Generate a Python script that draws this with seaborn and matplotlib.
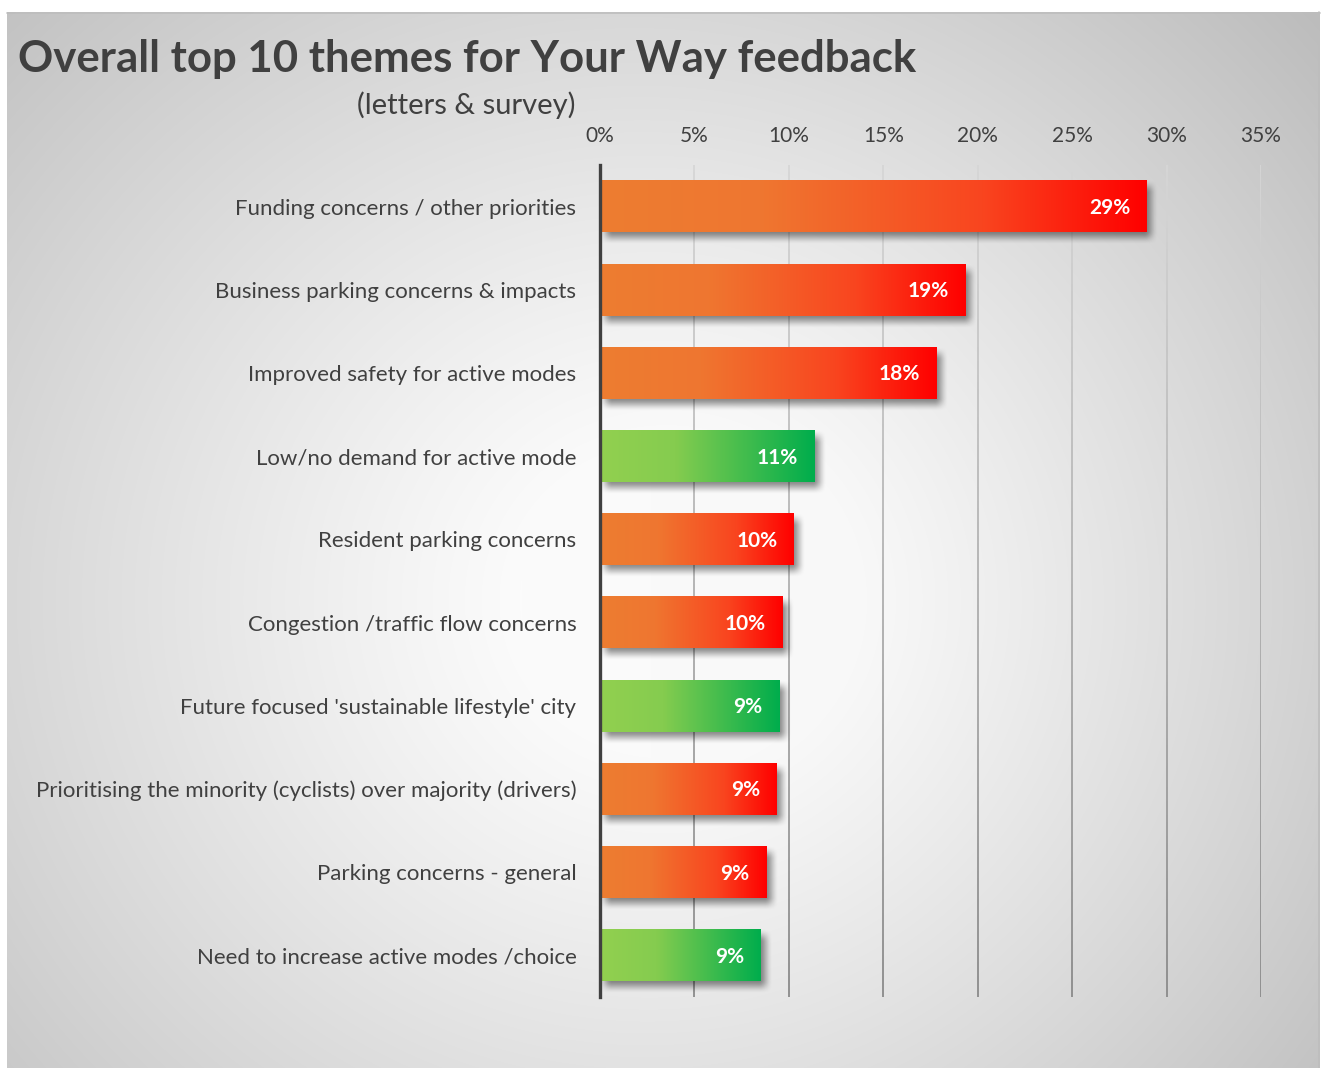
import numpy as np
import pandas as pd
import matplotlib
matplotlib.use("Agg")
import matplotlib.pyplot as plt
import seaborn as sns
from matplotlib.colors import LinearSegmentedColormap
from matplotlib.collections import LineCollection

# ---- data -------------------------------------------------------------
themes = [
    "Funding concerns / other priorities",
    "Business parking concerns & impacts",
    "Improved safety for active modes",
    "Low/no demand for active mode",
    "Resident parking concerns",
    "Congestion /traffic flow concerns",
    "Future focused 'sustainable lifestyle' city",
    "Prioritising the minority (cyclists) over majority (drivers)",
    "Parking concerns - general",
    "Need to increase active modes /choice",
]
shares = [0.2896, 0.1933, 0.1784, 0.1138, 0.1027, 0.0964, 0.0948, 0.0937, 0.0879, 0.0852]
tone = ["warm", "warm", "warm", "cool", "warm", "warm", "cool", "warm", "warm", "cool"]
x_ticks = [0, 0.05, 0.10, 0.15, 0.20, 0.25, 0.30, 0.35]

df = pd.DataFrame({"theme": themes, "share": shares, "tone": tone})

# ---- styling ----------------------------------------------------------
W, H = 1321, 1068
DPI = 100
sns.set_theme(style="white")
plt.rcParams["font.family"] = ["Lato", "DejaVu Sans"]
TEXT = "#404040"

fig = plt.figure(figsize=(W / DPI, H / DPI), dpi=DPI)
fig.patch.set_facecolor("white")

# radial grey backdrop panel
bg = fig.add_axes([0, 0, 1, 1], zorder=-10)
bg.set_xlim(0, W)
bg.set_ylim(H, 0)
bg.axis("off")
px0, px1, py0, py1 = 7, 1320, 12, H
xx, yy = np.meshgrid(np.arange(px0, px1), np.arange(py0, py1))
cx, cy = 690, 600
r = np.sqrt(((xx - cx) / 1.0) ** 2 + ((yy - cy) / 0.95) ** 2)
t = np.clip((r - 170) / 760, 0, 1) ** 1.1
shade = 1.0 - 0.24 * t - 0.04 * ((xx - px0) / (px1 - px0))
shade = np.clip(shade, 0, 1)
bg.imshow(np.dstack([shade] * 3), extent=[px0, px1, py1, py0], aspect="auto",
          interpolation="bilinear")
bg.plot([px0, px1], [py0 + 0.5, py0 + 0.5], color="#bdbdbd", lw=1.2)
bg.plot([px1 - 1, px1 - 1], [py0, py1], color="#bdbdbd", lw=1.2)

# main axes
ax_l, ax_r, ax_t, ax_b = 600, 1261, 165, 997
ax = fig.add_axes([ax_l / W, 1 - ax_b / H, (ax_r - ax_l) / W, (ax_b - ax_t) / H])
ax.set_facecolor("none")

sns.barplot(data=df, y="theme", x="share", hue="tone",
            palette={"warm": "#F04E1E", "cool": "#4CC04F"},
            width=0.62, orient="h", legend=False, ax=ax, zorder=3)

ax.set_xlim(0, 0.35)
ax.set_ylim(len(themes) - 0.5, -0.5)

# gradient gridlines (lighter at the top, darker at the bottom)
grid_cmap = LinearSegmentedColormap.from_list("grid", ["#d6d6d6", "#8a8a8a"])
ys = np.linspace(-0.5, len(themes) - 0.5, 120)
for xv in x_ticks[1:]:
    pts = np.column_stack([np.full_like(ys, xv), ys])
    segs = np.stack([pts[:-1], pts[1:]], axis=1)
    lc = LineCollection(segs, cmap=grid_cmap, linewidths=1.3, zorder=1)
    lc.set_array((ys[:-1] + 0.5) / len(themes))
    ax.add_collection(lc)

warm_cmap = LinearSegmentedColormap.from_list(
    "warm", [(0, "#ED7D31"), (0.3, "#EF7630"), (0.7, "#F9451F"), (1, "#FF0000")])
cool_cmap = LinearSegmentedColormap.from_list(
    "cool", [(0, "#92D050"), (0.35, "#85CC4F"), (1, "#00AD4C")])

# pixel -> data conversions for shadow offsets
ppx = (ax_r - ax_l) / 0.35
ppy = (ax_b - ax_t) / len(themes)

bars = sorted(ax.patches, key=lambda p: p.get_y())
for patch, tn, val in zip(bars, tone, shares):
    x0, y0 = patch.get_x(), patch.get_y()
    w, h = patch.get_width(), patch.get_height()
    patch.set_facecolor("none")
    patch.set_edgecolor("none")

    # soft drop shadow, offset down-right
    blur, dx, dy = 7, 5, 6
    sx0, sx1 = x0 + (dx - blur) / ppx, x0 + w + (dx + blur) / ppx
    sy0, sy1 = y0 + (dy - blur) / ppy, y0 + h + (dy + blur) / ppy
    nx, ny = 300, 60
    gx = np.linspace(sx0, sx1, nx)
    gy = np.linspace(sy0, sy1, ny)
    ex = np.clip(np.minimum(gx - sx0, sx1 - gx) * ppx / (2 * blur), 0, 1)
    ey = np.clip(np.minimum(gy - sy0, sy1 - gy) * ppy / (2 * blur), 0, 1)
    ex = ex * ex * (3 - 2 * ex)
    ey = ey * ey * (3 - 2 * ey)
    alpha = np.outer(ey, ex) * 0.45
    rgba = np.zeros((ny, nx, 4))
    rgba[..., 3] = alpha
    ax.imshow(rgba, extent=[sx0, sx1, sy1, sy0], aspect="auto", zorder=2,
              interpolation="bilinear")

    # horizontal colour gradient fill
    cmap = warm_cmap if tn == "warm" else cool_cmap
    grad = np.linspace(0, 1, 256)[None, :]
    ax.imshow(grad, cmap=cmap, extent=[x0, x0 + w, y0 + h, y0], aspect="auto",
              zorder=3, interpolation="bilinear")

    ax.annotate(f"{val:.0%}", xy=(x0 + w, y0 + h / 2), xytext=(-12, -1),
                textcoords="offset points", ha="right", va="center",
                color="white", fontsize=15, fontweight="bold", zorder=5)

ax.set_xlim(0, 0.35)
ax.set_ylim(len(themes) - 0.5, -0.5)

# axis cosmetics
ax.xaxis.tick_top()
ax.set_xticks(x_ticks)
ax.set_xticklabels([f"{v:.0%}" for v in x_ticks])
ax.tick_params(axis="x", length=0, pad=14, labelsize=15, labelcolor=TEXT)
ax.tick_params(axis="y", length=0, pad=17, labelsize=16, labelcolor=TEXT)
ax.set_xlabel("")
ax.set_ylabel("")
for side in ["top", "right", "bottom"]:
    ax.spines[side].set_visible(False)
ax.spines["left"].set_color("#404040")
ax.spines["left"].set_linewidth(2.4)
ax.spines["left"].set_zorder(6)

fig.text(18 / W, 1 - 72 / H, "Overall top 10 themes for Your Way feedback",
         ha="left", va="baseline", fontsize=31.5, fontweight="bold", color=TEXT)
fig.text(466 / W, 1 - 105 / H, "(letters & survey)", ha="center", va="center",
         fontsize=21, color=TEXT)

fig.savefig("out.png", dpi=DPI)
